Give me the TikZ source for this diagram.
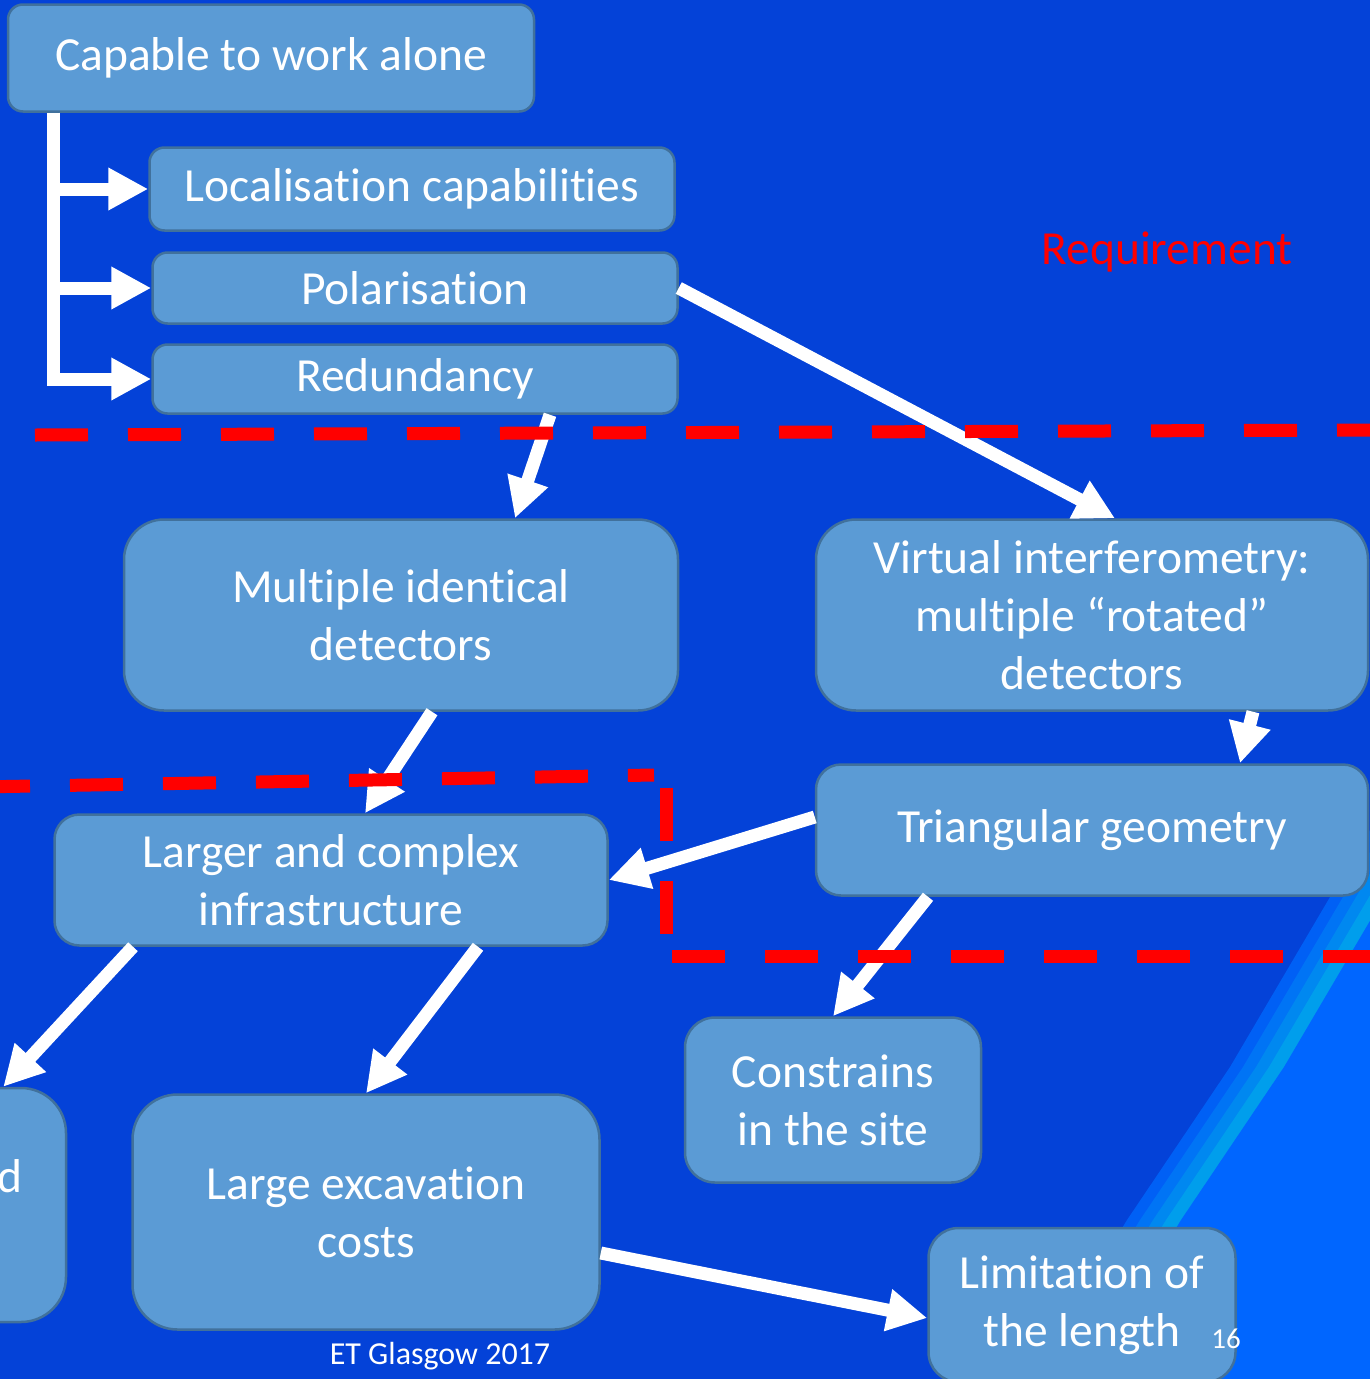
\documentclass[tikz,border=0pt]{standalone}
\usepackage{fontspec}
\setmainfont{Carlito}[Ligatures=NoCommon]
\usetikzlibrary{arrows.meta}

\definecolor{bgblue}{RGB}{4,66,216}
\definecolor{litblue}{RGB}{0,102,255}
\definecolor{boxfill}{RGB}{91,155,213}
\definecolor{boxline}{RGB}{65,113,156}
\definecolor{bandA}{RGB}{0,96,245}
\definecolor{bandB}{RGB}{0,116,245}
\definecolor{bandC}{RGB}{0,136,240}
\definecolor{bandD}{RGB}{0,158,236}

\begin{document}
\begin{tikzpicture}[x=1pt,y=-1pt]
\tikzset{box/.style = {draw=boxline, line width=2.5pt, fill=boxfill, text=white, align=center,
  font=\fontsize{47.5}{58}\selectfont, inner sep=0pt, rounded corners=15pt}}
\tikzset{edge/.style = {draw=white, line width=13pt, -{Triangle[length=40pt,width=40pt]}}}
\tikzset{limit/.style = {draw=red, line width=13pt, dash pattern=on 53pt off 40pt}}

\useasboundingbox (0,0) rectangle (1370,1379);
\fill[bgblue] (0,0) rectangle (1370,1379);
\foreach \dx/\c in {0/bandA, 13/bandB, 26/bandC, 39/bandD, 54/litblue}
  \fill[\c, xshift=\dx] (1370,830) -- (1330,897) -- (1230,1067) -- (1127,1220) -- (1030,1379)
    -- (1500,1379) -- (1500,830) -- cycle;

\node[box, minimum width=526, minimum height=107] (cap) at (271,58) {Capable to work alone};
\node[box, minimum width=525, minimum height=83] (loc) at (412,189) {Localisation capabilities};
\node[box, minimum width=525, minimum height=71] (pol) at (415,288) {Polarisation};
\node[box, minimum width=525, minimum height=69] (red) at (415,379) {Redundancy};
\node[box, minimum width=554, minimum height=191, rounded corners=40pt] (mult) at (401,615) {Multiple identical\\detectors};
\node[box, minimum width=552, minimum height=191, rounded corners=40pt] (virt) at (1092,615) {Virtual interferometry:\\multiple “rotated”\\detectors};
\node[box, minimum width=552, minimum height=131, rounded corners=25pt] (tri) at (1092,830) {Triangular geometry};
\node[box, minimum width=553, minimum height=131, rounded corners=25pt] (larg) at (331,880) {Larger and complex\\infrastructure};
\node[box, minimum width=432, minimum height=234, rounded corners=45pt, text width=344, inner xsep=44pt, align=right] (ugd) at (-150,1205) {d\\\mbox{}};
\node[box, minimum width=467, minimum height=235, rounded corners=45pt] (exc) at (366,1212) {Large excavation\\costs};
\node[box, minimum width=296, minimum height=165, rounded corners=30pt] (cons) at (833,1100) {Constrains\\in the site};
\node[box, minimum width=307, minimum height=154, rounded corners=30pt] (lim) at (1082,1305) {Limitation of\\the length};

\node[text=red, font=\fontsize{47.5}{56}\selectfont] (req) at (1167,252) {Requirement};
\node[text=white, font=\fontsize{32}{38}\selectfont] (foot) at (440,1356) {ET Glasgow 2017};
\node[text=white, font=\fontsize{29}{34}\selectfont] (num) at (1226,1339) {16};

\draw[edge] ([xshift=47]cap.south west) |- (loc.west);
\draw[edge] ([xshift=47]cap.south west) |- (pol.west);
\draw[edge] ([xshift=47]cap.south west) |- (red.west);
\draw[edge] ([xshift=135]red.south) -- ([xshift=114]mult.north);
\draw[edge] (pol.east) -- ([xshift=23]virt.north);
\draw[edge] ([xshift=31]mult.south) -- ([xshift=34]larg.north);
\draw[edge] ([xshift=161]virt.south) -- ([xshift=148]tri.north);
\draw[edge] ([yshift=13]tri.west) -- (larg.east);
\draw[edge] ([xshift=-164]tri.south) -- (cons.north);
\draw[edge] ([xshift=-198]larg.south) -- ([xshift=-64]ugd.north east);
\draw[edge] ([xshift=147]larg.south) -- (exc.north);
\draw[edge] ([yshift=-41]exc.east) -- ([yshift=-13]lim.west);

\draw[limit] (35,435) -- (1370,430);
\draw[limit] (-23,787) -- (654,775);
\draw[limit] (666,788) -- (666,935);
\draw[limit] (672,956) -- (1376,956);
\end{tikzpicture}
\end{document}
